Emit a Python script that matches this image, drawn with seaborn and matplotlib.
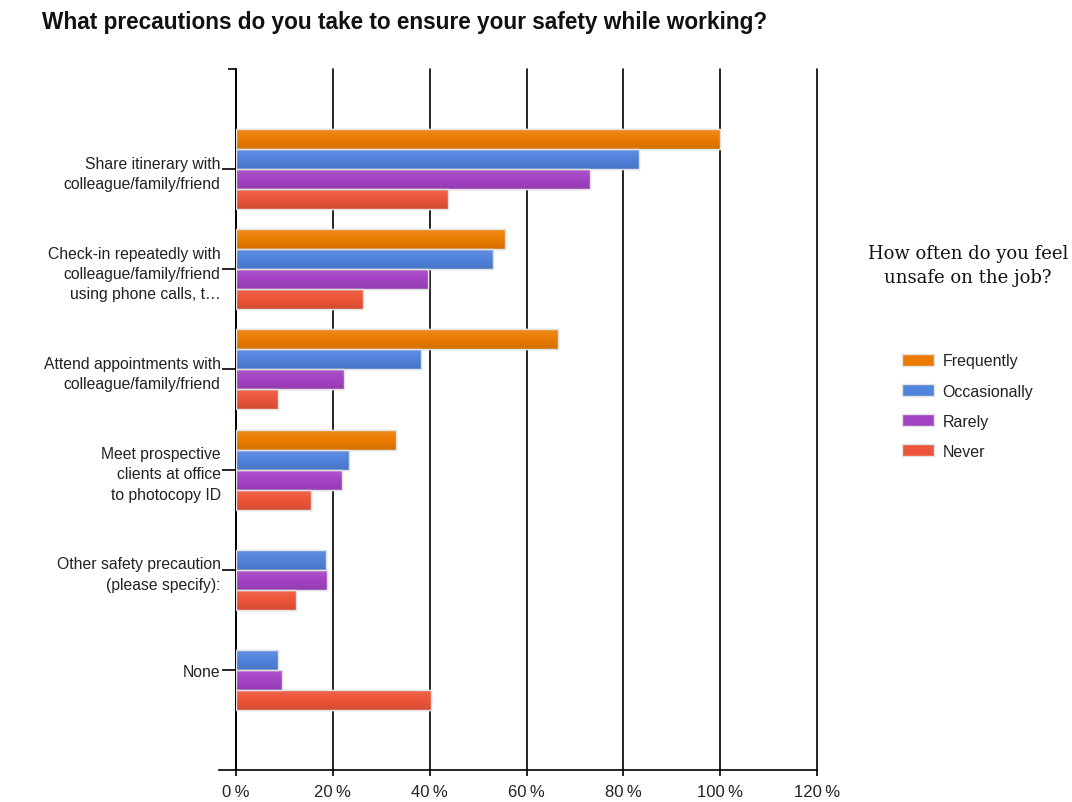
import matplotlib
matplotlib.use("Agg")
import matplotlib.pyplot as plt
import numpy as np
import pandas as pd
import seaborn as sns
from matplotlib.colors import LinearSegmentedColormap, to_rgb
from matplotlib.ticker import FixedLocator, FuncFormatter

categories = [
    "Share itinerary with\ncolleague/family/friend",
    "Check-in repeatedly with\ncolleague/family/friend\nusing phone calls, t\u2026",
    "Attend appointments with\ncolleague/family/friend",
    "Meet prospective\nclients at office\nto photocopy ID",
    "Other safety precaution\n(please specify):",
    "None",
]
series = ["Frequently", "Occasionally", "Rarely", "Never"]
frequently = [100.0, 55.5, 66.5, 33.1, 0.0, 0.0]
occasionally = [83.2, 53.1, 38.2, 23.3, 18.6, 8.7]
rarely = [73.1, 39.7, 22.4, 21.8, 18.8, 9.6]
never = [43.7, 26.2, 8.6, 15.5, 12.3, 40.3]
colors = ["#ec7c00", "#5083dc", "#a443c4", "#ec5538"]
x_ticks = [0, 20, 40, 60, 80, 100, 120]

sns.set_theme(style="white")
plt.rcParams["font.family"] = ["Liberation Sans", "DejaVu Sans"]

rows = []
for name, vals in zip(series, [frequently, occasionally, rarely, never]):
    for cat, v in zip(categories, vals):
        if v > 0:
            rows.append({"category": cat, "series": name, "pct": v})
df = pd.DataFrame(rows)

fig = plt.figure(figsize=(10.72, 8.03), dpi=100)
ax = fig.add_axes([236 / 1072, 1 - 771 / 803, (817 - 236) / 1072, (771 - 70) / 803])

sns.barplot(
    data=df, x="pct", y="category", hue="series",
    order=categories, hue_order=series,
    palette=dict(zip(series, colors)),
    orient="h", width=0.8, saturation=1,
    edgecolor="#e2e2e2", linewidth=1.0, ax=ax, zorder=3,
)


def shade(c, f):
    r = np.array(to_rgb(c))
    if f > 0:
        return tuple(r + (1 - r) * f)
    return tuple(r * (1 + f))


# soft vertical gradient on each bar, like the original chart
grad = np.linspace(0, 1, 64).reshape(-1, 1)
for patch in list(ax.patches):
    w = patch.get_width()
    if not np.isfinite(w) or w <= 0:
        continue
    x0, y0 = patch.get_x(), patch.get_y()
    h = patch.get_height()
    fc = patch.get_facecolor()[:3]
    cmap = LinearSegmentedColormap.from_list("g", [shade(fc, 0.12), fc, shade(fc, -0.1)])
    im = ax.imshow(grad, cmap=cmap, aspect="auto", extent=(x0, x0 + w, y0 + h, y0),
                   interpolation="bilinear", zorder=3.2)
    im.set_clip_path(patch)
    ax.add_patch(plt.Rectangle((x0, y0), w, h, facecolor="none",
                               edgecolor="#e2e2e2", linewidth=1.0, zorder=3.4))

ax.set_xlim(0, 120)
ax.set_ylim(6.0, -1.0)
ax.xaxis.set_major_locator(FixedLocator(x_ticks))
ax.xaxis.set_major_formatter(FuncFormatter(lambda v, p: f"{int(v)}\u2009%"))
ax.grid(axis="x", color="black", linewidth=1.2, zorder=0)
ax.grid(axis="y", visible=False)
ax.set_axisbelow(True)
for gl in ax.get_xgridlines():
    gl.set_clip_on(False)
ax.set_xlabel("")
ax.set_ylabel("")

for s in ["top", "right"]:
    ax.spines[s].set_visible(False)
for s in ["left", "bottom"]:
    ax.spines[s].set_color("black")
    ax.spines[s].set_linewidth(1.2)
ax.spines["bottom"].set_bounds(-3.5, 120)

ax.tick_params(axis="x", which="major", length=4, width=1.2, color="black",
               labelsize=12, pad=6, labelcolor="#222222", bottom=True)
ax.tick_params(axis="y", which="major", length=10, width=1.2, color="black",
               labelsize=11.3, pad=1, labelcolor="#222222", left=True)
ax.yaxis.set_minor_locator(FixedLocator([-1.0]))
ax.tick_params(axis="y", which="minor", length=6, width=1.2, color="black", left=True)
for lbl in ax.get_yticklabels():
    lbl.set_horizontalalignment("right")
    lbl.set_multialignment("right")
    lbl.set_linespacing(1.45)

ax.legend_.remove()
handles = [plt.Rectangle((0, 0), 1, 1, facecolor=c, edgecolor="#e2e2e2") for c in colors]
fig.legend(handles, series, loc="upper left", bbox_to_anchor=(888 / 1072, 1 - 340 / 803),
           frameon=False, fontsize=11.5, handlelength=2.0, handleheight=0.75,
           labelspacing=0.95, handletextpad=0.5, labelcolor="#222222")
fig.text(968 / 1072, 1 - 266 / 803, "How often do you feel\nunsafe on the job?",
         ha="center", va="center", fontsize=13, family="DejaVu Serif",
         linespacing=1.45, color="#111111")

fig.text(42 / 1072, 1 - 22 / 803, "What precautions do you take to ensure your safety while working?",
         ha="left", va="center", fontsize=16.3, fontweight="bold", color="#111111")

fig.savefig("out.png", dpi=100, facecolor="white")
